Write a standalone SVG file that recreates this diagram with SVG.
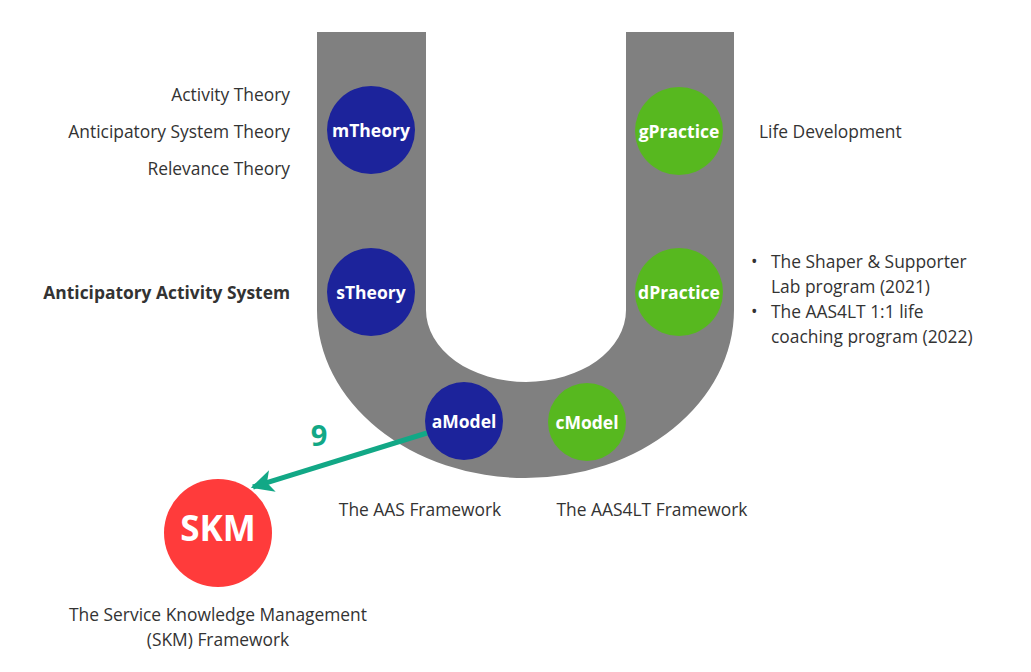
<svg xmlns="http://www.w3.org/2000/svg" width="1031" height="672" viewBox="0 0 1031 672">
<defs>
<style>
.lbl{font-family:"Open Sans","Liberation Sans",sans-serif;font-size:17.4px;fill:#333333}
.node{font-family:"Open Sans","Liberation Sans",sans-serif;font-size:17.5px;font-weight:bold;fill:#ffffff;text-anchor:middle}
.blue{fill:#1c239b}
.green{fill:#57b81f}
</style>
<marker id="ah" viewBox="0 0 10 10" refX="9" refY="5" markerWidth="5.5" markerHeight="4.5" markerUnits="strokeWidth" orient="auto">
<path d="M0,0 L10,5 L0,10 L2.5,5 Z" fill="#12a886"/>
</marker>
</defs>
<rect width="1031" height="672" fill="#ffffff"/>
<g id="u-shape">
<path d="M317,32 L426,32 L426,310 A100,72 0 0 0 626,310 L626,32 L734,32 L734,310 A208.5,168 0 0 1 317,310 Z" fill="#808080"/>
</g>
<g id="connectors">
<line x1="427" y1="433" x2="253" y2="487" stroke="#12a886" stroke-width="5" marker-end="url(#ah)"/>
<text x="319" y="446" font-family="Open Sans, Liberation Sans, sans-serif" font-size="29" font-weight="bold" fill="#12a886" text-anchor="middle">9</text>
</g>
<g id="mTheory"><circle cx="371" cy="130" r="44" class="blue"/><text x="371" y="137" class="node">mTheory</text></g>
<g id="sTheory"><circle cx="371" cy="292" r="44" class="blue"/><text x="371" y="299" class="node">sTheory</text></g>
<g id="gPractice"><circle cx="679" cy="131" r="44" class="green"/><text x="679" y="138" class="node">gPractice</text></g>
<g id="dPractice"><circle cx="679" cy="292" r="44" class="green"/><text x="679" y="299" class="node">dPractice</text></g>
<g id="aModel"><circle cx="464" cy="421" r="39" class="blue"/><text x="464" y="428" class="node">aModel</text></g>
<g id="cModel"><circle cx="587" cy="422" r="39" class="green"/><text x="587" y="429" class="node">cModel</text></g>
<g id="SKM"><circle cx="218" cy="533" r="54" fill="#ff3b3b"/><text x="218" y="541" class="node" style="font-size:35px">SKM</text></g>
<g id="labels">
<text x="290" y="101" class="lbl" text-anchor="end">Activity Theory</text>
<text x="290" y="138" class="lbl" text-anchor="end">Anticipatory System Theory</text>
<text x="290" y="175" class="lbl" text-anchor="end">Relevance Theory</text>
<text x="290" y="299" class="lbl" text-anchor="end" font-weight="bold" fill="#222">Anticipatory Activity System</text>
<text x="759" y="138" class="lbl">Life Development</text>
<text x="751" y="268" class="lbl">•</text>
<text x="771" y="268" class="lbl">The Shaper &amp; Supporter</text>
<text x="771" y="293" class="lbl">Lab program (2021)</text>
<text x="751" y="318" class="lbl">•</text>
<text x="771" y="318" class="lbl">The AAS4LT 1:1 life</text>
<text x="771" y="343" class="lbl">coaching program (2022)</text>
<text x="420" y="516" class="lbl" text-anchor="middle">The AAS Framework</text>
<text x="652" y="516" class="lbl" text-anchor="middle">The AAS4LT Framework</text>
<text x="218" y="621" class="lbl" text-anchor="middle">The Service Knowledge Management</text>
<text x="218" y="646" class="lbl" text-anchor="middle">(SKM) Framework</text>
</g>
</svg>
